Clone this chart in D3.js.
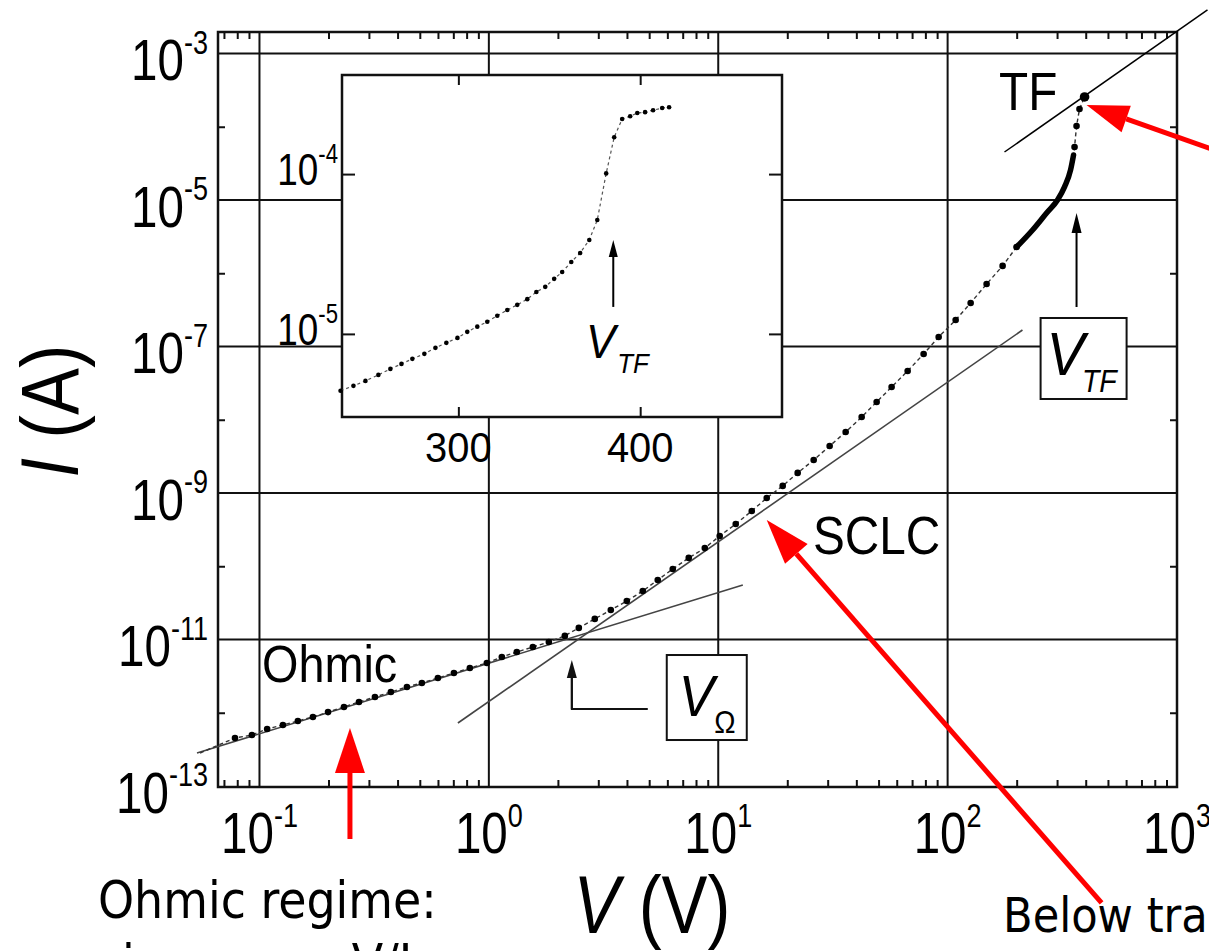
<!DOCTYPE html>
<html>
<head>
<meta charset="utf-8">
<script src="https://cdn.jsdelivr.net/npm/d3@7"></script>
<style>
  body { margin: 0; background: #fff; }
  svg { display: block; }
</style>
</head>
<body>
<div id="chart"></div>
<script>
// main I-V curve, dots joined by a dashed line
var mainV = [0.0551, 0.0782, 0.0927, 0.108, 0.1265, 0.147, 0.171, 0.199, 0.2335, 0.2715,
  0.3187, 0.374, 0.4394, 0.5105, 0.5995, 0.704, 0.8264, 0.980, 1.139, 1.324,
  1.555, 1.826, 2.144, 2.467, 2.896, 3.401, 3.994, 4.688, 5.449, 6.335,
  7.437, 8.737, 10.15, 11.92, 14.0, 16.27, 19.1, 22.2, 26.07, 30.6,
  35.94, 42.2, 49.05, 57.0, 66.95, 78.6, 91.4, 108.4, 126.0, 147.9,
  173.7, 199.8];
var mainI = [2.82e-13, 4.52e-13, 4.97e-13, 6.00e-13, 6.80e-13, 7.71e-13, 8.75e-13, 1.02e-12, 1.20e-12, 1.40e-12,
  1.64e-12, 1.92e-12, 2.25e-12, 2.55e-12, 2.98e-12, 3.49e-12, 4.08e-12, 4.78e-12, 5.77e-12, 6.75e-12,
  7.90e-12, 9.24e-12, 1.12e-11, 1.44e-11, 1.91e-11, 2.53e-11, 3.35e-11, 4.59e-11, 6.49e-11, 9.17e-11,
  1.30e-10, 1.77e-10, 2.59e-10, 3.77e-10, 5.68e-10, 8.55e-10, 1.25e-9, 1.88e-9, 2.82e-9, 4.38e-9,
  6.80e-9, 1.09e-8, 1.75e-8, 2.80e-8, 4.63e-8, 7.90e-8, 1.35e-7, 2.30e-7, 3.93e-7, 7.13e-7,
  1.26e-6, 2.28e-6];
// dense part before the transition (points overlap into a thick line)
var denseV = [199.8, 234.7, 270.1, 301.4, 323.4, 343.6, 354];
var denseI = [2.28e-6, 3.90e-6, 6.65e-6, 1.0e-5, 1.51e-5, 2.57e-5, 4.11e-5];
// points at the trap-filled limit
var tfV = [357.6, 364.8, 375.8, 395.4];
var tfI = [5.29e-5, 1.02e-4, 1.75e-4, 2.55e-4];

// inset (linear V)
var insetV = [235.2, 242.3, 248.9, 256.0, 262.6, 268.7, 274.7, 281.3, 287.4, 293.4,
  299.5, 304.9, 310.4, 315.9, 321.4, 326.9, 332.4, 337.9, 342.9, 347.8,
  352.7, 357.1, 362.1, 367.0, 372.0, 376.4, 381.3, 385.7, 390.1, 394.5,
  398.4, 402.7, 407.1, 412.1, 415.9];
var insetI = [4.41e-6, 4.73e-6, 5.08e-6, 5.54e-6, 6.04e-6, 6.49e-6, 6.98e-6, 7.50e-6, 8.18e-6, 8.79e-6,
  9.44e-6, 1.03e-5, 1.11e-5, 1.19e-5, 1.30e-5, 1.41e-5, 1.52e-5, 1.65e-5, 1.83e-5, 1.97e-5,
  2.21e-5, 2.44e-5, 2.82e-5, 3.21e-5, 3.87e-5, 5.16e-5, 1.01e-4, 1.70e-4, 2.21e-4, 2.30e-4,
  2.41e-4, 2.44e-4, 2.51e-4, 2.59e-4, 2.62e-4];

// fitted lines
var ohmicFitV = [0.0534, 12.8], ohmicFitI = [2.82e-13, 5.55e-11];
var sclcFitV = [0.733, 212], sclcFitI = [7.24e-13, 1.68e-7];
var tfFitV = [177, 1358], tfFitI = [4.52e-5, 3.93e-3];

// ticks
var xDecades = [0.1, 1, 10, 100, 1000];
var xDecadeExp = ["-1", "0", "1", "2", "3"];
var yDecades = [1e-3, 1e-5, 1e-7, 1e-9, 1e-11, 1e-13];
var yDecadeExp = ["-3", "-5", "-7", "-9", "-11", "-13"];
var yOddDecades = [1e-4, 1e-6, 1e-8, 1e-10, 1e-12];
var insetXTicks = [300, 400];
var insetYTicks = [1e-4, 1e-5];
var insetYExp = ["-4", "-5"];

var W = 1209, H = 951;
var fig = '"Liberation Sans", Arial, sans-serif';
var slide = '"DejaVu Sans Condensed", "DejaVu Sans", sans-serif';

var svg = d3.select("#chart").append("svg")
  .attr("width", W).attr("height", H);
svg.append("rect").attr("width", W).attr("height", H).attr("fill", "#fff");

var x = d3.scaleLog().domain([Math.pow(10, -1.1808), 1000]).range([218, 1177]);
var y = d3.scaleLog().domain([1e-13, Math.pow(10, -2.7065)]).range([786, 32]);

var x0 = x.range()[0], x1 = x.range()[1];
var yTop = y.range()[1], yBot = y.range()[0] + 1;

// grid
var grid = svg.append("g").attr("stroke", "#111").attr("stroke-width", 2);
grid.selectAll(".gx").data(xDecades.slice(0, 4)).enter().append("line")
  .attr("x1", d => x(d)).attr("x2", d => x(d)).attr("y1", yTop).attr("y2", yBot);
grid.selectAll(".gy").data(yDecades.slice(0, 5)).enter().append("line")
  .attr("y1", d => y(d)).attr("y2", d => y(d)).attr("x1", x0).attr("x2", x1);

// minor ticks (inward)
var minorX = [];
[0.01, 0.1, 1, 10, 100].forEach(function(dec) {
  for (var k = 2; k <= 9; k++) {
    var v = dec * k;
    if (v > x.domain()[0] && v < 1000) minorX.push(v);
  }
});
var tickG = svg.append("g").attr("stroke", "#111").attr("stroke-width", 2);
tickG.append("g").attr("transform", "translate(0," + yBot + ")")
  .call(d3.axisBottom(x).tickValues(minorX).tickSize(-7).tickFormat(""));
tickG.append("g").attr("transform", "translate(0," + yTop + ")")
  .call(d3.axisTop(x).tickValues(minorX).tickSize(-7).tickFormat(""));
tickG.append("g").attr("transform", "translate(" + x0 + ",0)")
  .call(d3.axisLeft(y).tickValues(yOddDecades).tickSize(-7).tickFormat(""));
tickG.append("g").attr("transform", "translate(" + x1 + ",0)")
  .call(d3.axisRight(y).tickValues(yOddDecades).tickSize(-7).tickFormat(""));
tickG.selectAll(".domain").remove();
tickG.selectAll(".tick line").attr("stroke", "#111").attr("stroke-width", 2);

// frame
svg.append("rect").attr("x", x0).attr("y", yTop)
  .attr("width", x1 - x0).attr("height", yBot - yTop)
  .attr("fill", "none").attr("stroke", "#111").attr("stroke-width", 2.5);

function sciLabel(g, px, py, base, exp, size, expSize, lift, anchor, sx) {
  var t = g.append("text")
    .attr("transform", "translate(" + px + "," + py + ") scale(" + sx + ",1)")
    .attr("text-anchor", anchor)
    .attr("font-family", fig).attr("fill", "#000");
  t.append("tspan").attr("font-size", size).text(base);
  t.append("tspan").attr("font-size", expSize).attr("dy", -lift).text(exp);
  return t;
}

// tick labels
var labels = svg.append("g");
yDecades.forEach(function(d, i) {
  sciLabel(labels, 208, y(d) + 27, "10", yDecadeExp[i], 58, 33, 27, "end", 0.82);
});
xDecades.forEach(function(d, i) {
  sciLabel(labels, x(d), 853, "10", xDecadeExp[i], 58, 33, 26, "middle", 0.82);
});

// axis titles
var yt = svg.append("text")
  .attr("transform", "translate(78,411) rotate(-90) scale(0.86,1)")
  .attr("text-anchor", "middle").attr("font-family", fig).attr("font-size", 82);
yt.append("tspan").attr("font-style", "italic").text("I");
yt.append("tspan").text(" (A)");
var xt = svg.append("text")
  .attr("transform", "translate(652,933) scale(0.84,1)")
  .attr("text-anchor", "middle").attr("font-family", fig).attr("font-size", 82);
xt.append("tspan").attr("font-style", "italic").text("V");
xt.append("tspan").text(" (V)");

// fit lines
var fitLine = d3.line().x(d => x(d[0])).y(d => y(d[1]));
svg.append("path").datum(d3.zip(ohmicFitV, ohmicFitI)).attr("d", fitLine)
  .attr("stroke", "#444").attr("stroke-width", 1.6).attr("fill", "none");
svg.append("path").datum(d3.zip(sclcFitV, sclcFitI)).attr("d", fitLine)
  .attr("stroke", "#444").attr("stroke-width", 1.6).attr("fill", "none");
svg.append("path").datum(d3.zip(tfFitV, tfFitI)).attr("d", fitLine)
  .attr("stroke", "#000").attr("stroke-width", 1.5).attr("fill", "none");

// data
var mainPts = d3.zip(mainV, mainI);
var densePts = d3.zip(denseV, denseI);
var tfPts = d3.zip(tfV, tfI);
svg.append("path").datum(mainPts.concat(densePts.slice(1), tfPts))
  .attr("d", d3.line().x(d => x(d[0])).y(d => y(d[1])))
  .attr("fill", "none").attr("stroke", "#333").attr("stroke-width", 1.4)
  .attr("stroke-dasharray", "4 3");
svg.append("path").datum(densePts)
  .attr("d", d3.line().curve(d3.curveMonotoneX).x(d => x(d[0])).y(d => y(d[1])))
  .attr("fill", "none").attr("stroke", "#000").attr("stroke-width", 5.5)
  .attr("stroke-linecap", "round");
svg.append("g").selectAll("circle").data(mainPts.slice(1).concat(tfPts)).enter()
  .append("circle").attr("cx", d => x(d[0])).attr("cy", d => y(d[1]))
  .attr("r", 3.3).attr("fill", "#000");
svg.append("circle").attr("cx", x(tfV[3])).attr("cy", y(tfI[3])).attr("r", 4.8).attr("fill", "#000");

// arrows
function arrow(g, ax, ay, bx, by, color, w, headLen, headW) {
  var a = Math.atan2(by - ay, bx - ax);
  var cx = bx - headLen * Math.cos(a), cy = by - headLen * Math.sin(a);
  g.append("line").attr("x1", ax).attr("y1", ay).attr("x2", cx).attr("y2", cy)
    .attr("stroke", color).attr("stroke-width", w);
  var px = -Math.sin(a) * headW / 2, py = Math.cos(a) * headW / 2;
  g.append("path")
    .attr("d", "M" + bx + "," + by + "L" + (cx + px) + "," + (cy + py) + "L" + (cx - px) + "," + (cy - py) + "Z")
    .attr("fill", color);
}

// inset
var ix = d3.scaleLinear().domain([236, 478]).range([342, 782]);
var iy = d3.scaleLog().domain([Math.pow(10, -5.52), Math.pow(10, -3.38)]).range([417, 75]);
var inset = svg.append("g");
inset.append("rect").attr("x", 342).attr("y", 75).attr("width", 440).attr("height", 342)
  .attr("fill", "#fff").attr("stroke", "none");
var iTicks = inset.append("g").attr("stroke", "#111").attr("stroke-width", 2);
iTicks.append("g").attr("transform", "translate(0,417)")
  .call(d3.axisBottom(ix).tickValues(insetXTicks).tickSize(-10).tickFormat(""));
iTicks.append("g").attr("transform", "translate(0,75)")
  .call(d3.axisTop(ix).tickValues(insetXTicks).tickSize(-10).tickFormat(""));
iTicks.append("g").attr("transform", "translate(342,0)")
  .call(d3.axisLeft(iy).tickValues(insetYTicks).tickSize(-13).tickFormat(""));
iTicks.append("g").attr("transform", "translate(782,0)")
  .call(d3.axisRight(iy).tickValues(insetYTicks).tickSize(-13).tickFormat(""));
iTicks.selectAll(".domain").remove();
iTicks.selectAll(".tick line").attr("stroke", "#111").attr("stroke-width", 2);
inset.append("rect").attr("x", 342).attr("y", 75).attr("width", 440).attr("height", 342)
  .attr("fill", "none").attr("stroke", "#111").attr("stroke-width", 2.5);

var insetPts = d3.zip(insetV, insetI);
inset.append("path").datum(insetPts)
  .attr("d", d3.line().x(d => ix(d[0])).y(d => iy(d[1])))
  .attr("fill", "none").attr("stroke", "#555").attr("stroke-width", 1.2)
  .attr("stroke-dasharray", "3 3");
inset.append("g").selectAll("circle").data(insetPts).enter().append("circle")
  .attr("cx", d => ix(d[0])).attr("cy", d => iy(d[1])).attr("r", 2.3).attr("fill", "#000");

insetYTicks.forEach(function(d, i) {
  sciLabel(inset, 338, iy(d) + 11, "10", insetYExp[i], 45, 27, 22, "end", 0.82);
});
insetXTicks.forEach(function(d) {
  inset.append("text").attr("transform", "translate(" + ix(d) + ",462) scale(0.95,1)")
    .attr("text-anchor", "middle").attr("font-family", fig).attr("font-size", 42).text(d);
});
arrow(inset, ix(385.2), iy(1.475e-5), ix(385.2), iy(3.87e-5), "#000", 2, 17, 9);
var ivt = inset.append("text").attr("transform", "translate(586,358) scale(0.92,1)")
  .attr("font-family", fig).attr("font-style", "italic").attr("font-size", 48);
ivt.append("tspan").text("V");
ivt.append("tspan").attr("font-size", 28).attr("dy", 15).attr("dx", 2).text("TF");

// annotation boxes
var ann = svg.append("g");
function subBox(bx, by, bw, bh, pad, main, sub, mainSize, subSize, subItalic, subDx) {
  ann.append("rect").attr("x", bx).attr("y", by).attr("width", bw).attr("height", bh)
    .attr("fill", "#fff").attr("stroke", "#111").attr("stroke-width", 2);
  var t = ann.append("text").attr("transform", "translate(" + (bx + pad) + "," + (by + bh - 24) + ") scale(0.92,1)")
    .attr("font-family", fig).attr("font-size", mainSize);
  t.append("tspan").attr("font-style", "italic").text(main);
  t.append("tspan").attr("font-size", subSize).attr("dy", 17).attr("dx", subDx)
    .attr("font-style", subItalic ? "italic" : "normal").text(sub);
}
subBox(x(254.3), y(2.45e-7), 86, 81, 6, "V", "TF", 62, 31, true, -3);
subBox(x(5.965), y(6.14e-12), 80, 85, 12, "V", "\u03A9", 58, 31, false, 0);

arrow(ann, x(364.8), y(3.46e-7), x(364.8), y(6.65e-6), "#000", 2, 20, 10);
ann.append("path")
  .attr("d", "M" + x(4.93) + "," + y(1.125e-12) + "H" + x(2.30) + "V" + (y(5.25e-12) + 18))
  .attr("fill", "none").attr("stroke", "#111").attr("stroke-width", 2);
arrow(ann, x(2.30), y(1.125e-12), x(2.30), y(5.25e-12), "#111", 2, 18, 10);

function figText(px, py, txt, size, sx) {
  ann.append("text").attr("transform", "translate(" + px + "," + py + ") scale(" + sx + ",1)")
    .attr("font-family", fig).attr("font-size", size).text(txt);
}
figText(262, 682, "Ohmic", 52, 0.9);
figText(813, 554, "SCLC", 53, 0.9);
figText(999, 110, "TF", 53, 0.9);

// slide text
var red = "#ff0000";
var redG = svg.append("g");
arrow(redG, x(0.248), y(1.89e-14), x(0.248), y(6.19e-13), red, 5, 45, 30);
arrow(redG, x(469), y(2.53e-15), x(16.27), y(4.28e-10), red, 5, 45, 30);
arrow(redG, x(1456), y(4.82e-5), x(403.4), y(1.98e-4), red, 5, 42, 28);

svg.append("text").attr("x", 98).attr("y", 918)
  .attr("font-family", slide).attr("font-stretch", "condensed").attr("font-size", 51)
  .text("Ohmic regime:");
svg.append("text").attr("x", 122).attr("y", 981)
  .attr("font-family", slide).attr("font-stretch", "condensed").attr("font-size", 51)
  .text("j = q n\u2080 \u03BC V/L");
svg.append("text").attr("x", 1003).attr("y", 932)
  .attr("font-family", slide).attr("font-stretch", "condensed").attr("font-size", 48)
  .text("Below transition:");
</script>
</body>
</html>
